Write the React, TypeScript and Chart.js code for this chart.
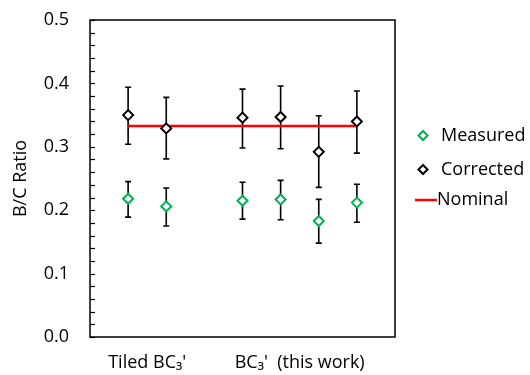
import React, { useEffect, useRef } from "react";
import { Chart, registerables } from "chart.js";

Chart.register(...registerables);

const positions = [1, 2, 4, 5, 6, 7];
const measured = [0.218, 0.206, 0.215, 0.217, 0.183, 0.212];
const measuredLow = [0.189, 0.175, 0.186, 0.185, 0.148, 0.181];
const measuredHigh = [0.245, 0.235, 0.244, 0.247, 0.217, 0.241];
const corrected = [0.35, 0.329, 0.346, 0.347, 0.292, 0.34];
const correctedLow = [0.304, 0.281, 0.298, 0.297, 0.236, 0.29];
const correctedHigh = [0.394, 0.378, 0.391, 0.396, 0.349, 0.388];
const nominalX = [1, 7];
const nominalValue = 0.333;
const groupLabels = ["Tiled BC\u2083'", "BC\u2083'  (this work)"];
const groupCenters = [1.5, 5.5];
const yTicks = [0, 0.1, 0.2, 0.3, 0.4, 0.5];

const FONT = "'Open Sans', 'DejaVu Sans', sans-serif";
const FS = 18;
const GREEN = "#00B050";

const decorPlugin = {
  id: "decor",
  beforeDatasetsDraw(chart: any) {
    const { ctx, chartArea, scales } = chart;
    const xs = scales.x;
    const ys = scales.y;
    ctx.save();
    ctx.strokeStyle = "#000";
    ctx.lineWidth = 1.5;
    ctx.strokeRect(
      chartArea.left,
      chartArea.top,
      chartArea.right - chartArea.left,
      chartArea.bottom - chartArea.top
    );
    ctx.lineWidth = 1.2;
    const ymin = yTicks[0];
    const ymax = yTicks[yTicks.length - 1];
    for (let v = ymin; v <= ymax + 1e-9; v += 0.02) {
      const py = Math.round(ys.getPixelForValue(v)) + 0.5;
      ctx.beginPath();
      ctx.moveTo(chartArea.left, py);
      ctx.lineTo(chartArea.left + 5, py);
      ctx.stroke();
    }
    ctx.lineWidth = 1.6;
    const drawBars = (lo: number[], hi: number[]) => {
      positions.forEach((p, i) => {
        const px = xs.getPixelForValue(p);
        const y1 = ys.getPixelForValue(lo[i]);
        const y2 = ys.getPixelForValue(hi[i]);
        ctx.beginPath();
        ctx.moveTo(px, y1);
        ctx.lineTo(px, y2);
        ctx.moveTo(px - 3, y1);
        ctx.lineTo(px + 3, y1);
        ctx.moveTo(px - 3, y2);
        ctx.lineTo(px + 3, y2);
        ctx.stroke();
      });
    };
    drawBars(measuredLow, measuredHigh);
    drawBars(correctedLow, correctedHigh);
    ctx.restore();
  },
  afterDraw(chart: any) {
    const { ctx } = chart;
    const ds = chart.data.datasets;
    const mx = 423;
    const tx = 441;
    const rows = [135.5, 169.5, 200];
    ctx.save();
    ctx.font = `${FS}px ${FONT}`;
    ctx.fillStyle = "#000";
    ctx.textBaseline = "middle";
    ctx.textAlign = "left";
    ds.forEach((d: any, i: number) => {
      const y = rows[i];
      if (i < 2) {
        ctx.strokeStyle = d.borderColor;
        ctx.lineWidth = 2;
        ctx.beginPath();
        ctx.moveTo(mx, y - 4.5);
        ctx.lineTo(mx + 4.5, y);
        ctx.lineTo(mx, y + 4.5);
        ctx.lineTo(mx - 4.5, y);
        ctx.closePath();
        ctx.stroke();
        ctx.fillText(d.label, tx, y);
      } else {
        ctx.strokeStyle = d.borderColor;
        ctx.lineWidth = 2.5;
        ctx.beginPath();
        ctx.moveTo(415, y);
        ctx.lineTo(437, y);
        ctx.stroke();
        ctx.fillText(d.label, 437, y);
      }
    });
    ctx.restore();
  },
};

export default function App() {
  const ref = useRef<HTMLCanvasElement | null>(null);

  useEffect(() => {
    document.body.style.margin = "0";
    if (!ref.current) return;
    const chart = new Chart(ref.current, {
      type: "scatter",
      data: {
        datasets: [
          {
            label: "Measured",
            data: positions.map((x, i) => ({ x, y: measured[i] })),
            pointStyle: "rectRot",
            pointRadius: 5,
            pointBorderWidth: 2,
            borderColor: GREEN,
            backgroundColor: "#fff",
            order: 1,
          },
          {
            label: "Corrected",
            data: positions.map((x, i) => ({ x, y: corrected[i] })),
            pointStyle: "rectRot",
            pointRadius: 5,
            pointBorderWidth: 2,
            borderColor: "#000",
            backgroundColor: "#fff",
            order: 1,
          },
          {
            label: "Nominal",
            data: nominalX.map((x) => ({ x, y: nominalValue })),
            showLine: true,
            borderColor: "#FF0000",
            borderWidth: 2.5,
            pointRadius: 0,
            order: 2,
          } as any,
        ],
      },
      options: {
        animation: false,
        responsive: false,
        events: [],
        layout: { padding: { left: 0, right: 135, top: 20, bottom: 0 } },
        plugins: {
          legend: { display: false },
          tooltip: { enabled: false },
        },
        scales: {
          x: {
            type: "linear",
            min: 0,
            max: 8,
            grid: { display: false, drawTicks: false },
            border: { display: false },
            afterBuildTicks: (scale: any) => {
              scale.ticks = groupCenters.map((v) => ({ value: v }));
            },
            afterFit: (scale: any) => {
              scale.height = 38;
              scale.paddingLeft = 0;
              scale.paddingRight = 0;
            },
            ticks: {
              autoSkip: false,
              maxRotation: 0,
              padding: 15,
              color: "#000",
              font: { family: FONT, size: FS },
              callback: (v: any) => groupLabels[groupCenters.indexOf(Number(v))] ?? "",
            },
          },
          y: {
            type: "linear",
            min: yTicks[0],
            max: yTicks[yTicks.length - 1],
            grid: { display: false, drawTicks: false },
            border: { display: false },
            afterBuildTicks: (scale: any) => {
              scale.ticks = yTicks.map((v) => ({ value: v }));
            },
            afterFit: (scale: any) => {
              scale.width = 90;
              scale.paddingTop = 0;
              scale.paddingBottom = 0;
            },
            title: {
              display: true,
              text: "B/C Ratio",
              color: "#000",
              font: { family: FONT, size: FS },
              padding: { top: 10, bottom: 0 },
            },
            ticks: {
              padding: 21,
              color: "#000",
              font: { family: FONT, size: FS },
              callback: (v: any) => Number(v).toFixed(1),
            },
          },
        },
      },
      plugins: [decorPlugin],
    } as any);
    return () => chart.destroy();
  }, []);

  return <canvas ref={ref} width={530} height={375} style={{ display: "block" }} />;
}
